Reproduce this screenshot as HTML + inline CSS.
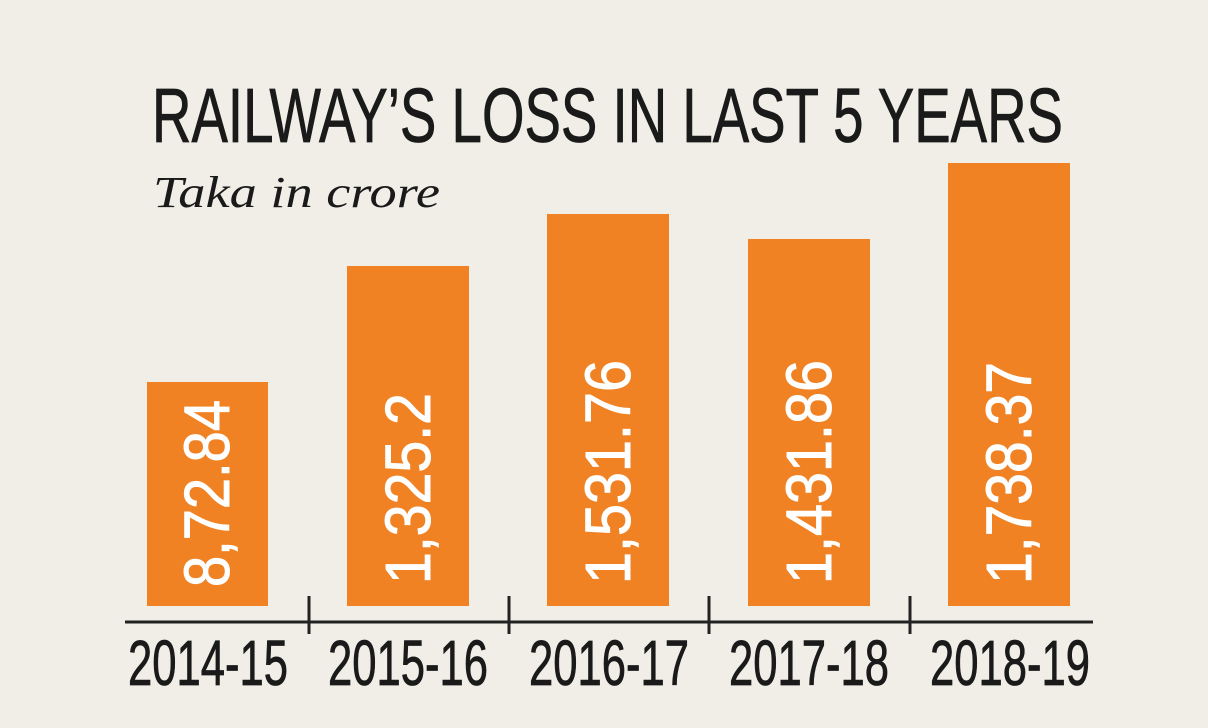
<!DOCTYPE html>
<html><head><meta charset="utf-8"><style>
html,body{margin:0;padding:0;background:#f1eee7;}
svg{display:block}
text{font-family:"Liberation Sans Narrow","Liberation Sans",sans-serif;}
</style></head><body>
<svg width="1208" height="728" viewBox="0 0 1208 728" xmlns="http://www.w3.org/2000/svg">
<rect width="1208" height="728" fill="#f1eee7"/>
<text x="152" y="142" font-size="77" fill="#1a1a1a" stroke="#1a1a1a" stroke-width="0.8" textLength="911" lengthAdjust="spacingAndGlyphs">RAILWAY’S LOSS IN LAST 5 YEARS</text>
<text x="153" y="207" font-size="44" font-style="italic" fill="#1a1a1a" style="font-family:'Liberation Serif',serif" textLength="287" lengthAdjust="spacingAndGlyphs">Taka in crore</text>
<g fill="#f08223">
<rect x="147" y="382" width="121" height="224"/>
<rect x="347" y="266" width="122" height="340"/>
<rect x="547" y="214" width="122" height="392"/>
<rect x="748" y="239" width="122" height="367"/>
<rect x="948" y="163" width="122" height="443"/>
</g>
<g fill="#fff" stroke="#fff" stroke-width="1" font-size="64">
<text transform="translate(229,587) rotate(-90)" textLength="187" lengthAdjust="spacingAndGlyphs">8,72.84</text>
<text transform="translate(430,584) rotate(-90)" textLength="191" lengthAdjust="spacingAndGlyphs">1,325.2</text>
<text transform="translate(630,584) rotate(-90)" textLength="224" lengthAdjust="spacingAndGlyphs">1,531.76</text>
<text transform="translate(831,584) rotate(-90)" textLength="224" lengthAdjust="spacingAndGlyphs">1,431.86</text>
<text transform="translate(1031,584) rotate(-90)" textLength="222" lengthAdjust="spacingAndGlyphs">1,738.37</text>
</g>
<g stroke="#222" stroke-width="3">
<line x1="125" y1="622" x2="1093" y2="622"/>
<line x1="309" y1="596" x2="309" y2="634"/>
<line x1="509" y1="596" x2="509" y2="634"/>
<line x1="709" y1="596" x2="709" y2="634"/>
<line x1="910" y1="596" x2="910" y2="634"/>
</g>
<g fill="#1a1a1a" stroke="#1a1a1a" stroke-width="0.8" font-size="64">
<text x="128" y="685" textLength="160" lengthAdjust="spacingAndGlyphs">2014-15</text>
<text x="328" y="685" textLength="160" lengthAdjust="spacingAndGlyphs">2015-16</text>
<text x="529" y="685" textLength="160" lengthAdjust="spacingAndGlyphs">2016-17</text>
<text x="729" y="685" textLength="160" lengthAdjust="spacingAndGlyphs">2017-18</text>
<text x="930" y="685" textLength="160" lengthAdjust="spacingAndGlyphs">2018-19</text>
</g>
</svg>
</body></html>
